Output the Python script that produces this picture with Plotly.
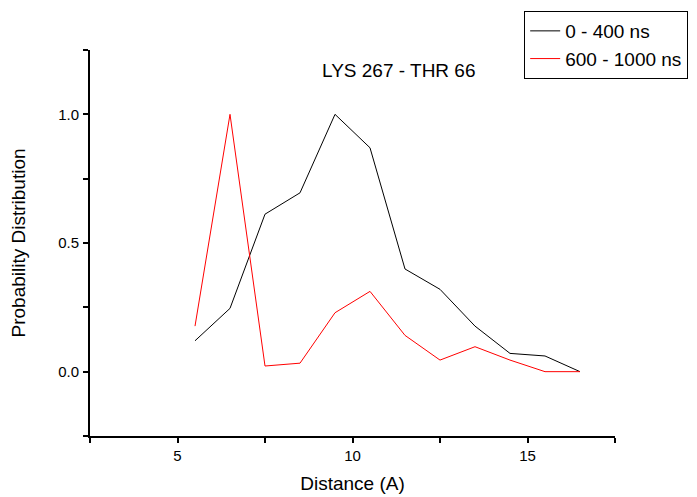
import plotly.graph_objects as go

distance = [5.5, 6.5, 7.5, 8.5, 9.5, 10.5, 11.5, 12.5, 13.5, 14.5, 15.5, 16.5]
p_0_400 = [0.12, 0.246, 0.612, 0.695, 1.0, 0.87, 0.399, 0.32, 0.177, 0.071, 0.061, 0.0]
p_600_1000 = [0.177, 1.0, 0.022, 0.033, 0.229, 0.312, 0.141, 0.045, 0.097, 0.045, 0.0, 0.0]

x_tickvals = [2.5, 5, 7.5, 10, 12.5, 15, 17.5]
x_ticktext = ["", "5", "", "10", "", "15", ""]
y_tickvals = [-0.25, 0, 0.25, 0.5, 0.75, 1.0, 1.25]
y_ticktext = ["", "0.0", "", "0.5", "", "1.0", ""]

font = "Liberation Sans, Arial, sans-serif"

fig = go.Figure()
fig.add_trace(go.Scatter(x=distance, y=p_0_400, mode="lines", name="0 - 400 ns",
                         line=dict(color="black", width=1)))
fig.add_trace(go.Scatter(x=distance, y=p_600_1000, mode="lines", name="600 - 1000 ns",
                         line=dict(color="red", width=1)))

# page body has an 8px default margin, so the figure is sized/offset to compensate
fig.update_layout(
    width=689, height=489,
    margin=dict(l=82, r=82, t=42, b=61, autoexpand=False),
    paper_bgcolor="white", plot_bgcolor="white",
    font=dict(family=font, size=15, color="black"),
    showlegend=True,
    legend=dict(x=0.827, y=1.101, xanchor="left", yanchor="top",
                bordercolor="black", borderwidth=1, bgcolor="white",
                font=dict(size=19), tracegroupgap=0),
    annotations=[dict(text="LYS 267 - THR 66", x=0.5875, y=0.9456, xref="paper", yref="paper",
                      showarrow=False, font=dict(size=19), xanchor="center", yanchor="middle")],
)
fig.update_xaxes(range=[2.5, 17.5], tickvals=x_tickvals, ticktext=x_ticktext,
                 ticks="outside", ticklen=5, tickwidth=1.5, tickcolor="black",
                 showline=True, linecolor="black", linewidth=2, showgrid=False, zeroline=False,
                 automargin=False,
                 title=dict(text="Distance (A)", font=dict(size=19), standoff=14))
fig.update_yaxes(range=[-0.25, 1.25], tickvals=y_tickvals, ticktext=y_ticktext,
                 ticks="outside", ticklen=5, tickwidth=1.5, tickcolor="black",
                 showline=True, linecolor="black", linewidth=2, showgrid=False, zeroline=False,
                 automargin=False, ticklabelstandoff=1,
                 title=dict(text="Probability Distribution", font=dict(size=19), standoff=27))

fig.write_html("out.html")
